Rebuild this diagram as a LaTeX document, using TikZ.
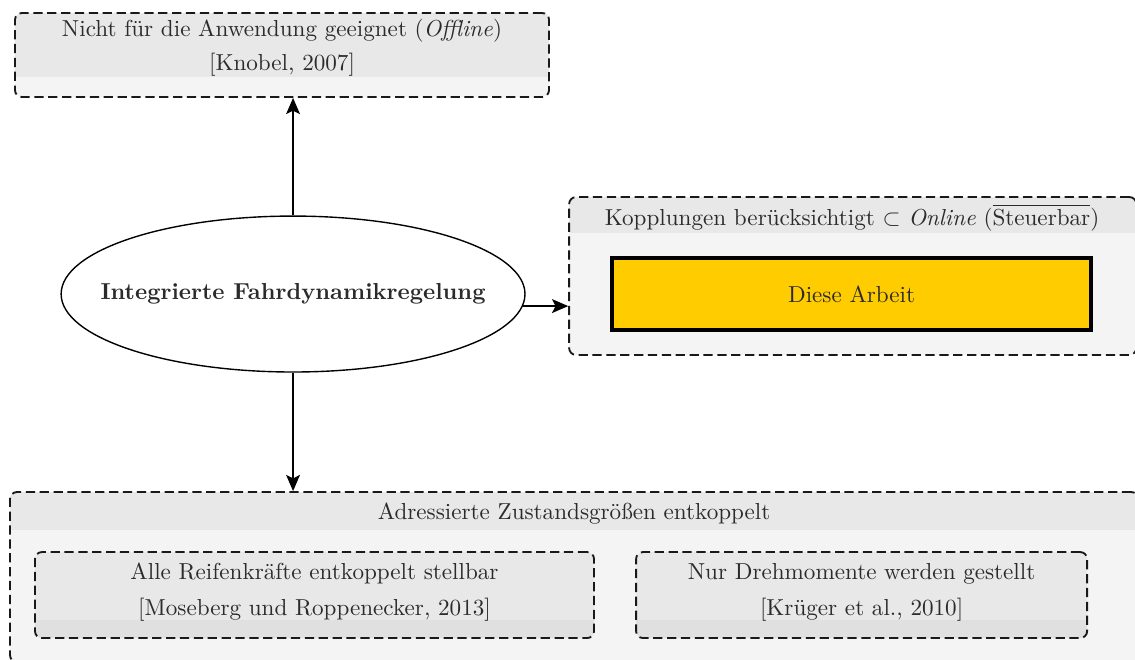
\documentclass[tikz,border=0pt]{standalone}
\usepackage{amsmath}
\usepackage{tikz}
\usetikzlibrary{shapes.geometric, arrows.meta}

\definecolor{bandgray}{HTML}{E8E8E8}
\definecolor{bodygray}{HTML}{F4F4F4}
\definecolor{footgray}{HTML}{E0E0E0}
\definecolor{arbeitgelb}{HTML}{FFCC00}
\definecolor{textgray}{HTML}{2B2B2B}

\begin{document}
\begin{tikzpicture}[
    group/.style={draw=black!90, dash pattern=on 4pt off 2pt, thick,
        rounded corners=3pt, fill=bodygray, inner sep=0pt},
    band/.style={path picture={\fill[bandgray, sharp corners]
        (path picture bounding box.north west) rectangle
        ([yshift=-#1]path picture bounding box.north east);}},
    foot/.style={path picture={\fill[footgray, sharp corners]
        (path picture bounding box.south west) rectangle
        ([yshift=#1]path picture bounding box.south east);}},
    lbl/.style={text=textgray, inner sep=1pt},
    arr/.style={-{Stealth[length=7pt, width=6pt, inset=1.5pt]}, semithick}
]
    \useasboundingbox (0, 0) rectangle (17.25, -10.03);
    \clip (0, 0) rectangle (17.25, -10.03);

    % Offline
    \node[group, band=0.973cm, minimum width=8.117cm, minimum height=1.277cm]
        (offline) at (4.286, -0.836) {};
    \node[lbl] (offtitle) at (4.286, -0.46)
        {Nicht für die Anwendung geeignet (\textit{Offline})};
    \node[lbl] (offref) at (4.286, -0.99) {[Knobel, 2007]};

    % Online
    \node[group, overlay, band=0.547cm, minimum width=8.62cm, minimum height=2.40cm]
        (online) at (12.96, -4.195) {};
    \node[lbl] (ontitle) at (12.95, -3.31)
        {Kopplungen berücksichtigt $\subset$ \textit{Online}
         ($\overline{\text{Steuerbar}}$)};
    \node[lbl, draw=black, ultra thick, fill=arbeitgelb,
        minimum width=7.28cm, minimum height=1.094cm]
        (arbeit) at (12.943, -4.469) {Diese Arbeit};

    % entkoppelt
    \node[group, overlay, band=0.578cm, minimum width=17.146cm, minimum height=2.584cm]
        (entk) at (8.725, -8.77) {};
    \node[lbl] (entktitle) at (8.725, -7.81)
        {Adressierte Zustandsgrößen entkoppelt};
    \node[group, fill=bandgray, foot=0.274cm,
        minimum width=8.497cm, minimum height=1.307cm]
        (reifen) at (4.78, -9.044) {};
    \node[lbl] (reifentitle) at (4.78, -8.72)
        {Alle Reifenkräfte entkoppelt stellbar};
    \node[lbl] (reifenref) at (4.78, -9.267)
        {[Moseberg und Roppenecker, 2013]};
    \node[group, fill=bandgray, foot=0.274cm,
        minimum width=6.855cm, minimum height=1.307cm]
        (moment) at (13.095, -9.044) {};
    \node[lbl] (momenttitle) at (13.095, -8.72)
        {Nur Drehmomente werden gestellt};
    \node[lbl] (momentref) at (13.095, -9.267) {[Krüger et al., 2010]};

    % Regelung
    \node[ellipse, draw, semithick, inner sep=0pt,
        minimum width=7.05cm, minimum height=2.37cm]
        (ifr) at (4.454, -4.469) {};
    \node[lbl, font=\bfseries] (ifrtext) at (4.454, -4.469)
        {Integrierte Fahrdynamikregelung};

    \draw[arr] (ifr) -- (ifr |- offline.south);
    \draw[arr] (ifr.-3) -- (ifr.-3 -| online.west);
    \draw[arr] (ifr) -- (ifr |- entk.north);
\end{tikzpicture}
\end{document}
